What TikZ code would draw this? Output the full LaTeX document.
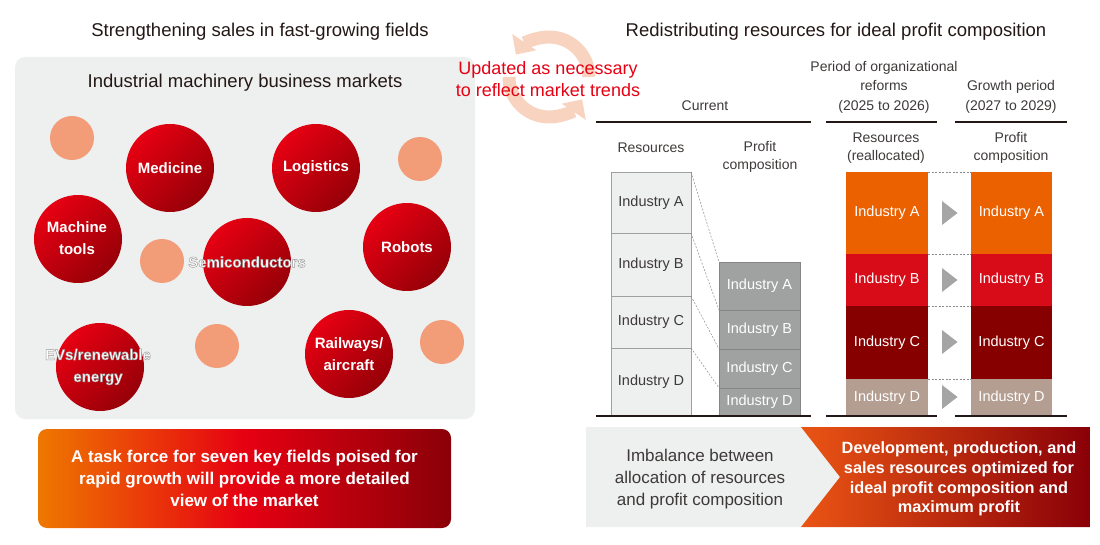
\documentclass[tikz,border=0pt]{standalone}
\usepackage{fontspec}
\setmainfont{Liberation Sans}
\usetikzlibrary{arrows.meta}
\definecolor{panelgray}{HTML}{EEEFEF}
\definecolor{peach}{HTML}{F29C78}
\definecolor{peachlight}{HTML}{F8D3C0}
\definecolor{brightred}{HTML}{E60012}
\definecolor{deepred}{HTML}{960008}
\definecolor{txtdark}{HTML}{231815}
\definecolor{txtgray}{HTML}{3E3A39}
\definecolor{gorange}{HTML}{EE7800}
\definecolor{gorangeb}{HTML}{EA5514}
\definecolor{gdark}{HTML}{8A0008}
\definecolor{indA}{HTML}{EB6100}
\definecolor{indB}{HTML}{D80C18}
\definecolor{indC}{HTML}{870000}
\definecolor{indD}{HTML}{B49D91}
\definecolor{resline}{HTML}{A0A0A0}
\definecolor{proffill}{HTML}{A0A1A1}
\definecolor{profline}{HTML}{858585}
\definecolor{trigray}{HTML}{A5A5A5}
\definecolor{dashgray}{HTML}{8C8C8C}
\newcommand{\haloed}[1]{\special{pdf:literal direct q 0.6 0.6 0.6 RG 2 Tr 0.45 w}#1\special{pdf:literal direct Q}}
\begin{document}
\begin{tikzpicture}[x=1pt,y=-1pt,
  every node/.style={inner sep=0pt, outer sep=0pt},
  titletext/.style={font=\fontsize{18.5}{22}\selectfont, text=txtdark},
  panel/.style={fill=panelgray, rounded corners=10pt},
  smallc/.style={circle, fill=peach, minimum size=44pt},
  bigc/.style={circle, minimum size=88pt, top color=brightred, bottom color=deepred, shading angle=45},
  circlbl/.style={font=\bfseries\fontsize{15}{22}\selectfont, text=white, align=center},
  taskbox/.style={rounded corners=9pt, left color=gorange, right color=gdark, middle color=brightred,
     minimum width=413pt, minimum height=99pt, font=\bfseries\fontsize{17}{22}\selectfont, text=white, align=center},
  redtext/.style={font=\fontsize{18}{22}\selectfont, text=brightred, align=center},
  ring/.style={draw=peachlight, line width=13pt, -{Triangle[width=28pt,length=15pt]}},
  hdrtext/.style={font=\fontsize{14}{19.5}\selectfont, text=txtgray, align=center},
  hdrline/.style={draw=txtdark, line width=1.5pt},
  resbox/.style={draw=resline, line width=0.8pt, fill=panelgray, minimum width=80pt, font=\fontsize{14.5}{17}\selectfont, text=txtgray},
  profbox/.style={draw=profline, line width=0.8pt, fill=proffill, minimum width=81pt, font=\fontsize{14.5}{17}\selectfont, text=white},
  colbox/.style={minimum width=82pt, font=\fontsize{14.5}{17}\selectfont, text=white},
  sep/.style={draw=dashgray, dashed, dash pattern=on 2pt off 1.5pt, line width=0.5pt},
  arrowtri/.pic={\fill[trigray] (-7.5,-12) -- (8,0) -- (-7.5,12) -- cycle;},
  graytext/.style={font=\fontsize{17}{22}\selectfont, text=txtgray, align=center},
  whitebold/.style={font=\bfseries\fontsize{16.3}{19.7}\selectfont, text=white, align=center}
]
\useasboundingbox (0,0) rectangle (1100,545);

% ---------- left titles and panel ----------
\node[titletext] (ltitle) at (260,32) {Strengthening sales in fast-growing fields};
\node[panel, minimum width=460pt, minimum height=362pt] (panelbox) at (245,238) {};
\node[font=\fontsize{18.5}{22}\selectfont, text=txtdark] (ptitle) at (245,83) {Industrial machinery business markets};

% small circles
\node[smallc] (s1) at (72,138) {};
\node[smallc] (s2) at (420,159) {};
\node[smallc] (s3) at (162,261) {};
\node[smallc] (s4) at (217,346) {};
\node[smallc] (s5) at (442,342) {};

% big circles
\node[bigc] (cmed) at (170,168) {};
\node[bigc] (clog) at (316,168) {};
\node[bigc] (cmac) at (78,239) {};
\node[bigc] (csem) at (247,262) {};
\node[bigc] (crob) at (407,247) {};
\node[bigc] (cev) at (100,367) {};
\node[bigc] (crail) at (349,354) {};

\node[circlbl] (lmed) at (170,168) {Medicine};
\node[circlbl] (llog) at (316,168) {Logistics};
\node[circlbl] (lmac) at (77,238) {Machine\\tools};
\node[circlbl] (lrob) at (407,247) {Robots};
\node[circlbl] (lrail) at (349,354) {Railways/\\aircraft};
\node[circlbl] (lsem) at (247,262) {\haloed{Semiconductors}};
\node[circlbl] (lev) at (98,367) {\haloed{EVs/renewable}\\\haloed{energy}};

% task force box
\node[taskbox] (task) at (244.5,478.5) {A task force for seven key fields poised for\\rapid growth will provide a more detailed\\view of the market};

% ---------- circular arrow ----------
\coordinate (rc) at (549,77);
\draw[ring] (589,77) arc[start angle=0, end angle=-146, radius=40];
\draw[ring] (509,77) arc[start angle=-180, end angle=-326, radius=40];
\node[redtext] (upd) at (548,79) {Updated as necessary\\to reflect market trends};

% ---------- right side ----------
\node[titletext] (rtitle) at (836,32) {Redistributing resources for ideal profit composition};

\node[hdrtext] (hcur) at (705,106) {Current};
\node[hdrtext] (hper) at (884,87) {Period of organizational\\reforms\\(2025 to 2026)};
\node[hdrtext] (hgro) at (1011,97) {Growth period\\(2027 to 2029)};
\draw[hdrline] (596,122) -- (811,122);
\draw[hdrline] (826,122) -- (937,122);
\draw[hdrline] (955,122) -- (1067,122);

\node[hdrtext] (hres) at (651,148) {Resources};
\node[hdrtext, font=\fontsize{14}{18}\selectfont] (hprof) at (760,157) {Profit\\composition};
\node[hdrtext, font=\fontsize{14}{18}\selectfont] (hrea) at (886,148) {Resources\\(reallocated)};
\node[hdrtext, font=\fontsize{14}{18}\selectfont] (hprof2) at (1011,148) {Profit\\composition};

% current resources stack
\node[resbox, minimum height=61pt] (rA) at (651,202.5) {Industry A};
\node[resbox, minimum height=63pt] (rB) at (651,264.5) {Industry B};
\node[resbox, minimum height=52pt] (rC) at (651,322) {Industry C};
\node[resbox, minimum height=68pt] (rD) at (651,382) {Industry D};

% current profit stack
\node[profbox, minimum height=48pt] (pA) at (759.5,286) {Industry A};
\node[profbox, minimum height=39pt] (pB) at (759.5,329.5) {Industry B};
\node[profbox, minimum height=39pt] (pC) at (759.5,368.5) {Industry C};
\node[profbox, minimum height=28pt] (pD) at (759.5,402) {Industry D};

\draw[sep] (rA.north east) -- (pA.north west);
\draw[sep] (rA.south east) -- (pA.south west);
\draw[sep] (rB.south east) -- (pB.south west);
\draw[sep] (rC.south east) -- (pC.south west);

% reallocated stack
\node[colbox, fill=indA, minimum height=82pt] (aA) at (887,213) {Industry A};
\node[colbox, fill=indB, minimum height=52pt] (aB) at (887,280) {Industry B};
\node[colbox, fill=indC, minimum height=73pt] (aC) at (887,342.5) {Industry C};
\node[colbox, fill=indD, minimum height=37pt] (aD) at (887,397.5) {Industry D};

% growth stack
\node[colbox, fill=indA, minimum height=82pt, minimum width=81pt] (gA) at (1011.5,213) {Industry A};
\node[colbox, fill=indB, minimum height=52pt, minimum width=81pt] (gB) at (1011.5,280) {Industry B};
\node[colbox, fill=indC, minimum height=73pt, minimum width=81pt] (gC) at (1011.5,342.5) {Industry C};
\node[colbox, fill=indD, minimum height=37pt, minimum width=81pt] (gD) at (1011.5,397.5) {Industry D};

\draw[sep] (aA.north east) -- (gA.north west);
\draw[sep] (aA.south east) -- (gA.south west);
\draw[sep] (aB.south east) -- (gB.south west);
\draw[sep] (aC.south east) -- (gC.south west);

\pic at (949.5,213) {arrowtri};
\pic at (949.5,280) {arrowtri};
\pic at (949.5,342) {arrowtri};
\pic at (949.5,397) {arrowtri};

% baselines
\draw[hdrline] (596,416) -- (811,416);
\draw[hdrline] (826,416) -- (937,416);
\draw[hdrline] (955,416) -- (1067,416);

% ---------- bottom right chevron ----------
\fill[panelgray] (586,427) -- (801,427) -- (840,477) -- (801,527) -- (586,527) -- cycle;
\shade[left color=gorangeb, middle color=brightred, right color=gdark]
  (801,427) -- (1090,427) -- (1090,527) -- (801,527) -- (840,477) -- cycle;
\node[graytext] (imb) at (700,479) {Imbalance between\\allocation of resources\\and profit composition};
\node[whitebold] (dev) at (959,479) {Development, production, and\\sales resources optimized for\\ideal profit composition and\\maximum profit};
\end{tikzpicture}
\end{document}
